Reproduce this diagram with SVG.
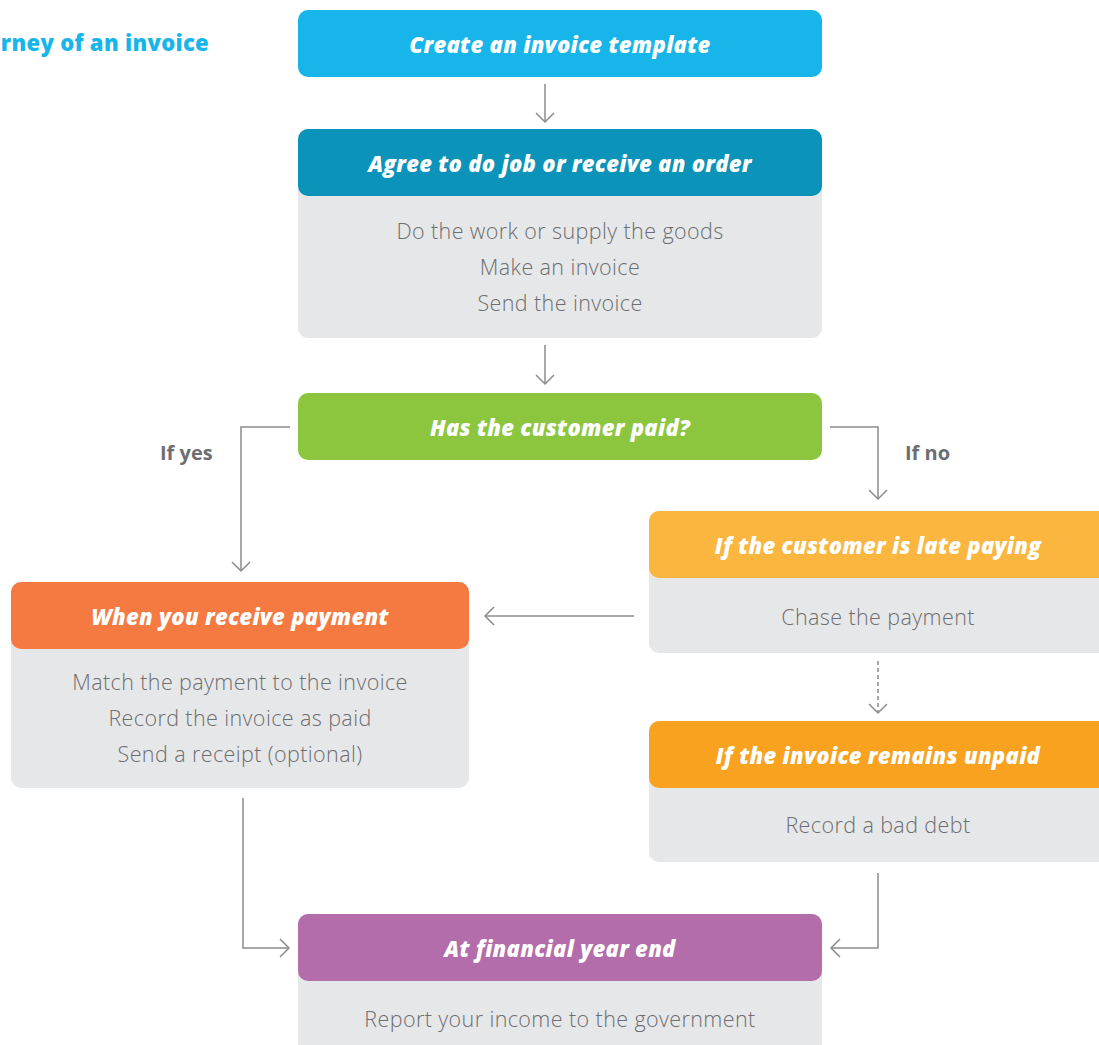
<svg xmlns="http://www.w3.org/2000/svg" width="1099" height="1045" viewBox="0 0 1099 1045">
  <style>
    .body { fill: #e6e7e8; }
    .head { font-family: "Open Sans", "Liberation Sans", sans-serif; font-weight: 800; font-style: italic; font-size: 22px; letter-spacing: 0.3px; fill: #ffffff; text-anchor: middle; }
    .txt { font-family: "Open Sans", "Liberation Sans", sans-serif; font-weight: 300; font-size: 21.5px; letter-spacing: 0.4px; fill: #6d6e71; text-anchor: middle; }
    .lbl { font-family: "Open Sans", "Liberation Sans", sans-serif; font-weight: 700; font-size: 20px; fill: #6d6e71; }
    .title { font-family: "Open Sans", "Liberation Sans", sans-serif; font-weight: 800; font-size: 22px; letter-spacing: 0.3px; fill: #17b5ea; }
    .conn { fill: none; stroke: #8a8c8e; stroke-width: 1.5; }
    .dash { stroke-dasharray: 4 3; }
  </style>
  <defs>
    <marker id="chev" markerUnits="userSpaceOnUse" viewBox="-12 -12 24 24" markerWidth="24" markerHeight="24" refX="0" refY="0" orient="auto">
      <path d="M-9,-9 L0,0 L-9,9" fill="none" stroke="#8a8c8e" stroke-width="1.5"/>
    </marker>
  </defs>

  <rect width="1099" height="1045" fill="#ffffff"/>

  <text class="title" x="209" y="51" text-anchor="end">rney of an invoice</text>

  <!-- connectors -->
  <g id="connectors">
    <path class="conn" d="M545,84 V122" marker-end="url(#chev)"/>
    <path class="conn" d="M545,345 V384" marker-end="url(#chev)"/>
    <path class="conn" d="M290,427 H241 V571" marker-end="url(#chev)"/>
    <path class="conn" d="M830,427 H878 V499" marker-end="url(#chev)"/>
    <path class="conn" d="M634,616 H485" marker-end="url(#chev)"/>
    <path class="conn dash" d="M878,661 V713" marker-end="url(#chev)"/>
    <path class="conn" d="M243,798 V948 H289" marker-end="url(#chev)"/>
    <path class="conn" d="M878,873 V948 H831" marker-end="url(#chev)"/>
    <text class="lbl" x="160" y="460">If yes</text>
    <text class="lbl" x="905" y="460">If no</text>
  </g>

  <g id="node-template">
    <rect x="298" y="10" width="524" height="67" rx="10" fill="#17b5ea"/>
    <text class="head" x="560" y="53">Create an invoice template</text>
  </g>

  <g id="node-order">
    <rect class="body" x="298" y="129" width="524" height="209" rx="10"/>
    <rect x="298" y="129" width="524" height="67" rx="10" fill="#0b93b9"/>
    <text class="head" x="560" y="172">Agree to do job or receive an order</text>
    <text class="txt" x="560" y="239">Do the work or supply the goods</text>
    <text class="txt" x="560" y="275">Make an invoice</text>
    <text class="txt" x="560" y="311">Send the invoice</text>
  </g>

  <g id="node-paid">
    <rect x="298" y="393" width="524" height="67" rx="10" fill="#8cc63f"/>
    <text class="head" x="560" y="436">Has the customer paid?</text>
  </g>

  <g id="node-late">
    <rect class="body" x="649" y="511" width="470" height="142" rx="10"/>
    <rect x="649" y="511" width="470" height="67" rx="10" fill="#fbb63f"/>
    <text class="head" x="878" y="554">If the customer is late paying</text>
    <text class="txt" x="878" y="625">Chase the payment</text>
  </g>

  <g id="node-received">
    <rect class="body" x="11" y="582" width="458" height="206" rx="10"/>
    <rect x="11" y="582" width="458" height="67" rx="10" fill="#f47a42"/>
    <text class="head" x="240" y="625">When you receive payment</text>
    <text class="txt" x="240" y="690">Match the payment to the invoice</text>
    <text class="txt" x="240" y="726">Record the invoice as paid</text>
    <text class="txt" x="240" y="762">Send a receipt (optional)</text>
  </g>

  <g id="node-unpaid">
    <rect class="body" x="649" y="721" width="470" height="141" rx="10"/>
    <rect x="649" y="721" width="470" height="67" rx="10" fill="#f8a21f"/>
    <text class="head" x="878" y="764">If the invoice remains unpaid</text>
    <text class="txt" x="878" y="833">Record a bad debt</text>
  </g>

  <g id="node-yearend">
    <rect class="body" x="298" y="914" width="524" height="150" rx="10"/>
    <rect x="298" y="914" width="524" height="67" rx="10" fill="#b36daa"/>
    <text class="head" x="560" y="957">At financial year end</text>
    <text class="txt" x="560" y="1027">Report your income to the government</text>
  </g>
</svg>
